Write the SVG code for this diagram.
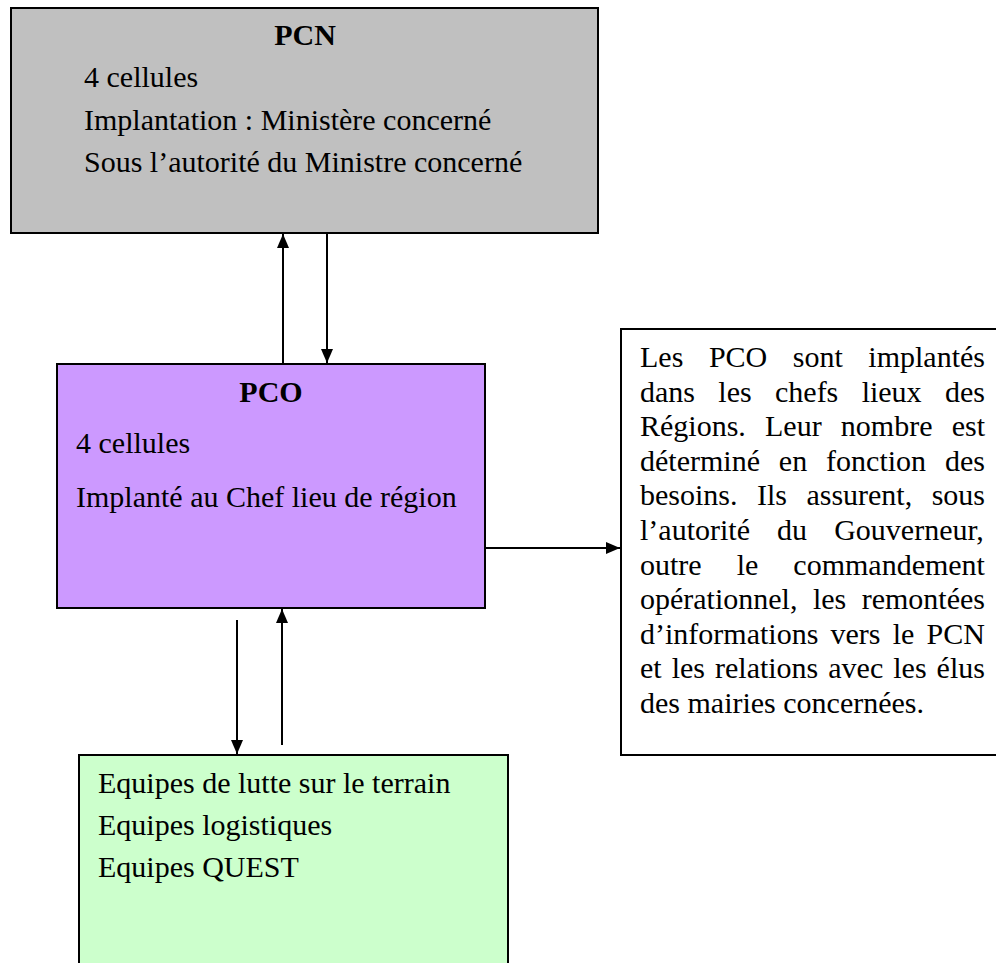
<svg xmlns="http://www.w3.org/2000/svg" width="996" height="963" viewBox="0 0 996 963">
<defs>
<style>
.box{stroke:#000;stroke-width:2}
.t{font-family:"Liberation Serif","Times New Roman",serif;font-size:30px;fill:#000}
.b{font-weight:bold;text-anchor:middle}
.c{stroke:#000;stroke-width:2;fill:none}
</style>
<marker id="ah" viewBox="0 0 14 12" refX="14" refY="6" markerWidth="14" markerHeight="12" markerUnits="userSpaceOnUse" orient="auto">
<path d="M0,0 L14,6 L0,12 Z" fill="#000"/>
</marker>
</defs>
<rect width="996" height="963" fill="#fff"/>
<g id="pcn">
<rect class="box" x="11" y="8" width="587" height="225" fill="#c0c0c0"/>
<text class="t b" x="305" y="45">PCN</text>
<text class="t" x="84" y="87">4 cellules</text>
<text class="t" x="84" y="130">Implantation : Ministère concerné</text>
<text class="t" x="84" y="172">Sous l’autorité du Ministre concerné</text>
</g>
<g id="pco">
<rect class="box" x="57" y="364" width="428" height="244" fill="#cc99ff"/>
<text class="t b" x="271" y="402">PCO</text>
<text class="t" x="76" y="453">4 cellules</text>
<text class="t" x="76" y="507">Implanté au Chef lieu de région</text>
</g>
<g id="note">
<rect class="box" x="621" y="329" width="380" height="426" fill="#fff"/>
<text class="t" x="640" y="367" word-spacing="18.06">Les PCO sont implantés</text>
<text class="t" x="640" y="401.6" word-spacing="15.84">dans les chefs lieux des</text>
<text class="t" x="640" y="436.2" word-spacing="11.68">Régions. Leur nombre est</text>
<text class="t" x="640" y="470.8" word-spacing="11.41">déterminé en fonction des</text>
<text class="t" x="640" y="505.4" word-spacing="11.95">besoins. Ils assurent, sous</text>
<text class="t" x="640" y="540" word-spacing="19.62">l’autorité du Gouverneur,</text>
<text class="t" x="640" y="574.6" word-spacing="27.53">outre le commandement</text>
<text class="t" x="640" y="609.2" word-spacing="7.95">opérationnel, les remontées</text>
<text class="t" x="640" y="643.8" word-spacing="4.73">d’informations vers le PCN</text>
<text class="t" x="640" y="678.4" word-spacing="2.51">et les relations avec les élus</text>
<text class="t" x="640" y="713">des mairies concernées.</text>
</g>
<g id="equipes">
<rect class="box" x="79" y="755" width="429" height="220" fill="#ccffcc"/>
<text class="t" x="98" y="793">Equipes de lutte sur le terrain</text>
<text class="t" x="98" y="835">Equipes logistiques</text>
<text class="t" x="98" y="877">Equipes QUEST</text>
</g>
<g id="connectors">
<line class="c" x1="283" y1="364" x2="283" y2="234" marker-end="url(#ah)"/>
<line class="c" x1="327" y1="234" x2="327" y2="363" marker-end="url(#ah)"/>
<line class="c" x1="486" y1="548" x2="620" y2="548" marker-end="url(#ah)"/>
<line class="c" x1="237" y1="620" x2="237" y2="754" marker-end="url(#ah)"/>
<line class="c" x1="282" y1="745" x2="282" y2="609" marker-end="url(#ah)"/>
</g>
</svg>
